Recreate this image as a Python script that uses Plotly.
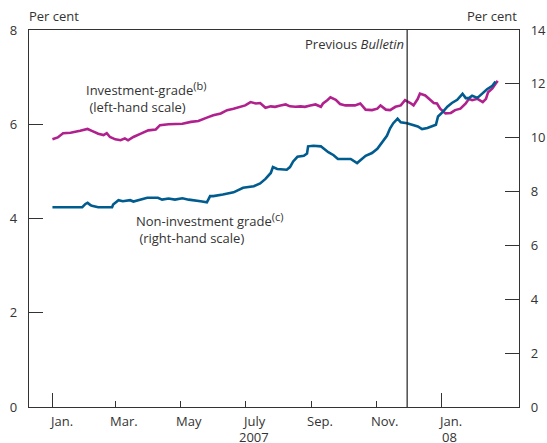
import plotly.graph_objects as go

# ---------------- data ----------------
ig_dates = ["2007-01-01","2007-01-06","2007-01-11","2007-01-18","2007-01-27","2007-02-03","2007-02-07",
            "2007-02-13","2007-02-18","2007-02-21","2007-02-24","2007-03-01","2007-03-06","2007-03-10",
            "2007-03-13","2007-03-18","2007-03-25","2007-04-01","2007-04-08","2007-04-12","2007-04-20",
            "2007-04-26","2007-05-03","2007-05-11","2007-05-18","2007-05-26","2007-06-01","2007-06-08",
            "2007-06-14","2007-06-20","2007-06-26","2007-07-01","2007-07-06","2007-07-11","2007-07-15",
            "2007-07-20","2007-07-25","2007-07-29","2007-08-03","2007-08-08","2007-08-12","2007-08-17",
            "2007-08-22","2007-08-26","2007-08-31","2007-09-05","2007-09-10","2007-09-12","2007-09-16",
            "2007-09-19","2007-09-24","2007-09-28","2007-10-03","2007-10-08","2007-10-12","2007-10-17",
            "2007-10-22","2007-10-28","2007-11-02","2007-11-05","2007-11-10","2007-11-14","2007-11-19",
            "2007-11-24","2007-11-28","2007-12-03","2007-12-06","2007-12-10","2007-12-12","2007-12-17",
            "2007-12-22","2007-12-25","2007-12-28","2007-12-31","2008-01-05","2008-01-10","2008-01-14",
            "2008-01-19","2008-01-24","2008-01-27","2008-01-30","2008-02-04","2008-02-09","2008-02-12",
            "2008-02-14","2008-02-18","2008-02-21","2008-02-23"]
ig_values = [5.68,5.72,5.81,5.82,5.86,5.90,5.86,
             5.80,5.77,5.81,5.73,5.68,5.66,5.70,
             5.66,5.73,5.80,5.87,5.89,5.98,6.00,
             6.00,6.01,6.05,6.07,6.14,6.19,6.23,
             6.30,6.33,6.37,6.40,6.47,6.44,6.45,
             6.35,6.38,6.37,6.40,6.42,6.38,6.37,
             6.38,6.37,6.40,6.42,6.37,6.44,6.51,
             6.57,6.52,6.43,6.40,6.40,6.40,6.44,
             6.31,6.30,6.33,6.40,6.31,6.30,6.37,
             6.40,6.51,6.45,6.40,6.54,6.65,6.61,
             6.52,6.45,6.44,6.33,6.23,6.24,6.30,
             6.33,6.44,6.54,6.51,6.54,6.47,6.54,
             6.68,6.76,6.86,6.92]

nig_dates = ["2007-01-01","2007-01-29","2007-02-01","2007-02-03","2007-02-06","2007-02-08","2007-02-13",
             "2007-02-26","2007-02-27","2007-03-04","2007-03-08","2007-03-15","2007-03-18","2007-03-22",
             "2007-03-31","2007-04-10","2007-04-14","2007-04-20","2007-04-26","2007-05-03","2007-05-09",
             "2007-05-20","2007-05-26","2007-05-29","2007-06-01","2007-06-10","2007-06-20","2007-06-29",
             "2007-07-09","2007-07-15","2007-07-20","2007-07-25","2007-07-27","2007-07-31","2007-08-06",
             "2007-08-09","2007-08-12","2007-08-15","2007-08-19","2007-08-25","2007-08-28","2007-08-29",
             "2007-09-03","2007-09-10","2007-09-12","2007-09-17","2007-09-22","2007-09-26","2007-10-08",
             "2007-10-11","2007-10-14","2007-10-22","2007-10-28","2007-11-02","2007-11-07","2007-11-11",
             "2007-11-14","2007-11-17","2007-11-21","2007-11-24","2007-11-30","2007-12-05","2007-12-10",
             "2007-12-14","2007-12-19","2007-12-27","2007-12-29","2008-01-02","2008-01-07","2008-01-11",
             "2008-01-16","2008-01-21","2008-01-24","2008-01-27","2008-01-30","2008-02-04","2008-02-09",
             "2008-02-13","2008-02-18","2008-02-21"]
nig_values = [7.42,7.42,7.54,7.58,7.49,7.46,7.42,
              7.42,7.52,7.68,7.64,7.68,7.63,7.68,
              7.77,7.77,7.70,7.74,7.70,7.75,7.70,
              7.64,7.60,7.83,7.83,7.89,7.97,8.14,
              8.20,8.30,8.47,8.69,8.91,8.84,8.81,
              8.81,8.91,9.12,9.29,9.33,9.41,9.68,
              9.70,9.68,9.62,9.46,9.35,9.21,9.21,
              9.12,9.06,9.33,9.43,9.59,9.86,10.07,
              10.35,10.54,10.71,10.57,10.54,10.48,10.42,
              10.32,10.36,10.48,10.79,10.94,11.16,11.29,
              11.41,11.63,11.47,11.47,11.56,11.48,11.66,
              11.80,11.93,12.09]

year_tick_dates = ["2007-01-01", "2008-01-01"]
month_tick_dates = ["2007-03-01", "2007-05-01", "2007-07-01", "2007-09-01", "2007-11-01"]
label_dates = ["2007-01-09", "2007-03-09", "2007-05-09", "2007-07-09", "2007-09-09", "2007-11-09", "2008-01-09"]
month_labels = ["Jan.", "Mar.", "May", "July", "Sep.", "Nov.", "Jan."]
year_labels = ["", "", "", "2007", "", "", "08"]
left_ticks = [0, 2, 4, 6, 8]
right_ticks = [0, 2, 4, 6, 8, 10, 12, 14]
previous_bulletin_date = "2007-11-30"
x_range = ["2006-12-10", "2008-03-14"]

MAGENTA = "#B0218E"
BLUE = "#005B8F"
TXT = "#333333"
FONT = "Open Sans"
SUP = '<sup><span style="font-size:11px">{}</span></sup>'

fig = go.Figure()
fig.add_trace(go.Scatter(x=ig_dates, y=ig_values, mode="lines",
                         line=dict(color=MAGENTA, width=2.6), yaxis="y", showlegend=False))
fig.add_trace(go.Scatter(x=nig_dates, y=nig_values, mode="lines",
                         line=dict(color=BLUE, width=2.6), yaxis="y2", showlegend=False))

fig.add_shape(type="line", xref="x", yref="paper", x0=previous_bulletin_date, x1=previous_bulletin_date,
              y0=0, y1=1, line=dict(color="#222222", width=1.2))

ann = []
for d, m, yr in zip(label_dates, month_labels, year_labels):
    ann.append(dict(x=d, y=0, xref="x", yref="paper", text=m, showarrow=False,
                    xanchor="center", yanchor="middle", yshift=-14, align="center",
                    font=dict(family=FONT, size=13, color=TXT)))
    if yr:
        ann.append(dict(x=d, y=0, xref="x", yref="paper", text=yr, showarrow=False,
                        xanchor="center", yanchor="middle", yshift=-30, align="center",
                        font=dict(family=FONT, size=13, color=TXT)))
ann += [
    dict(x=0, y=1, xref="paper", yref="paper", text="Per cent", showarrow=False, xanchor="left",
         yanchor="bottom", yshift=3, xshift=-2, font=dict(family=FONT, size=13, color=TXT)),
    dict(x=1, y=1, xref="paper", yref="paper", text="Per cent", showarrow=False, xanchor="right",
         yanchor="bottom", yshift=3, font=dict(family=FONT, size=13, color=TXT)),
    dict(x=previous_bulletin_date, y=1, xref="x", yref="paper", text="Previous <i>Bulletin</i>",
         showarrow=False, xanchor="right", yanchor="top", xshift=-1, yshift=-3,
         font=dict(family=FONT, size=13, color=TXT)),
    dict(x="2007-01-31", y=6.58, xref="x", yref="y",
         text="Investment-grade" + SUP.format("(b)") + "<br> (left-hand scale)",
         showarrow=False, xanchor="left", yanchor="middle", align="left",
         font=dict(family=FONT, size=13, color=TXT)),
    dict(x="2007-03-19", y=3.80, xref="x", yref="y",
         text="Non-investment grade" + SUP.format("(c)") + "<br> (right-hand scale)",
         showarrow=False, xanchor="left", yanchor="middle", align="left",
         font=dict(family=FONT, size=13, color=TXT)),
]

fig.update_layout(
    width=547, height=443,
    margin=dict(l=29, r=28, t=30, b=36, autoexpand=False),
    paper_bgcolor="white", plot_bgcolor="white",
    font=dict(family=FONT, size=13, color=TXT),
    annotations=ann,
    xaxis=dict(type="date", range=x_range, tickmode="array", tickvals=year_tick_dates,
               ticks="inside", ticklen=14, tickwidth=1.2, tickcolor="#333",
               showticklabels=False, showgrid=False, zeroline=False, automargin=False,
               showline=True, linecolor="#333", linewidth=1.2, mirror=True,
               minor=dict(tickmode="array", tickvals=month_tick_dates, ticks="inside",
                          ticklen=6, tickwidth=1.2, tickcolor="#333", showgrid=False)),
    yaxis=dict(range=[0, 8], tickmode="array", tickvals=left_ticks, ticks="inside", ticklen=14,
               tickwidth=1.2, tickcolor="#333", showgrid=False, zeroline=False, automargin=False,
               showline=True, linecolor="#333", linewidth=1.2, ticklabelstandoff=8,
               tickfont=dict(family=FONT, size=13, color=TXT)),
    yaxis2=dict(range=[0, 14], tickmode="array", tickvals=right_ticks, ticks="inside", ticklen=14,
                tickwidth=1.2, tickcolor="#333", showgrid=False, zeroline=False, overlaying="y",
                automargin=False,
                side="right", showline=True, linecolor="#333", linewidth=1.2, ticklabelstandoff=8,
                tickfont=dict(family=FONT, size=13, color=TXT)),
)

fig.write_html("out.html", config={"displayModeBar": False},
               post_script="document.body.style.margin='0';document.body.style.overflow='hidden';")
